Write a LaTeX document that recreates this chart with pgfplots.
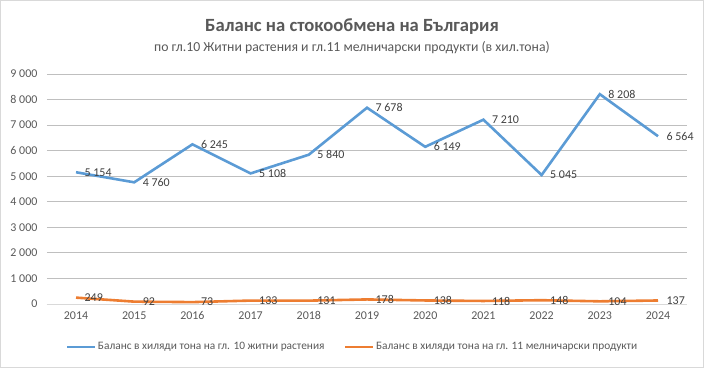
\documentclass[border=0pt]{standalone}
\usepackage{fontspec}
\setmainfont{Carlito}
\usepackage{pgfplots}
\pgfplotsset{compat=1.18}
\definecolor{sblue}{HTML}{5B9BD5}
\definecolor{sorange}{HTML}{ED7D31}
\definecolor{txt}{HTML}{595959}
\definecolor{grid}{HTML}{D9D9D9}
\begin{document}
\begin{tikzpicture}
\draw[grid, line width=0.8bp] (0.5bp,0.5bp) rectangle (703.5bp,367.5bp);
\node[text=txt, font=\fontsize{18.7}{22}\selectfont\bfseries] at (352bp,341bp) {Баланс на стокообмена на България};
\node[text=txt, font=\fontsize{13.8}{16}\selectfont] at (352bp,320bp) {по гл.10 Житни растения и гл.11 мелничарски продукти (в хил.тона)};
\begin{axis}[
  at={(47bp,64bp)}, anchor=south west,
  scale only axis, width=640bp, height=230bp,
  xmin=-0.5, xmax=10.5, ymin=0, ymax=9000,
  xtick={0,...,10},
  xticklabels={2014,2015,2016,2017,2018,2019,2020,2021,2022,2023,2024},
  ytick={0,1000,...,9000},
  yticklabels={0,1~000,2~000,3~000,4~000,5~000,6~000,7~000,8~000,9~000},
  xmajorgrids=false, ymajorgrids=true,
  major grid style={grid, line width=0.8bp},
  axis lines*=left,
  y axis line style={draw=none},
  x axis line style={grid, line width=0.8bp, -},
  major tick length=0pt,
  tick label style={text=txt, font=\fontsize{12}{14}\selectfont},
  yticklabel style={xshift=-6bp},
  xticklabel style={yshift=-4bp},
  /pgf/number format/assume math mode=true,
  clip=false,
  legend style={at={(0.477,-0.187)}, anchor=center, draw=none, fill=none,
    legend columns=2, font=\fontsize{11.4}{13}\selectfont, text=txt,
    nodes={inner xsep=1.5bp},
    /tikz/every odd column/.append style={column sep=0bp},
    /tikz/every even column/.append style={column sep=18bp}},
  legend image code/.code={\draw[#1] (0bp,0bp) -- (28bp,0bp);},
  nodes near coords, point meta=explicit symbolic,
  every node near coord/.append style={anchor=west, text=black!75, font=\fontsize{12}{14}\selectfont, xshift=4bp},
]
\addplot[sblue, line width=2.6bp] coordinates {
 (0,5154) [5~154] (1,4760) [4~760] (2,6245) [6~245] (3,5108) [5~108]
 (4,5840) [5~840] (5,7678) [7~678] (6,6149) [6~149] (7,7210) [7~210]
 (8,5045) [5~045] (9,8208) [8~208] (10,6564) [6~564]};
\addlegendentry{Баланс в хиляди тона на гл. 10 житни растения}
\addplot[sorange, line width=2.6bp] coordinates {
 (0,249) [249] (1,92) [92] (2,73) [73] (3,133) [133] (4,131) [131]
 (5,178) [178] (6,138) [138] (7,118) [118] (8,148) [148] (9,104) [104] (10,137) [137]};
\addlegendentry{Баланс в хиляди тона на гл. 11 мелничарски продукти}
\end{axis}
\end{tikzpicture}
\end{document}
